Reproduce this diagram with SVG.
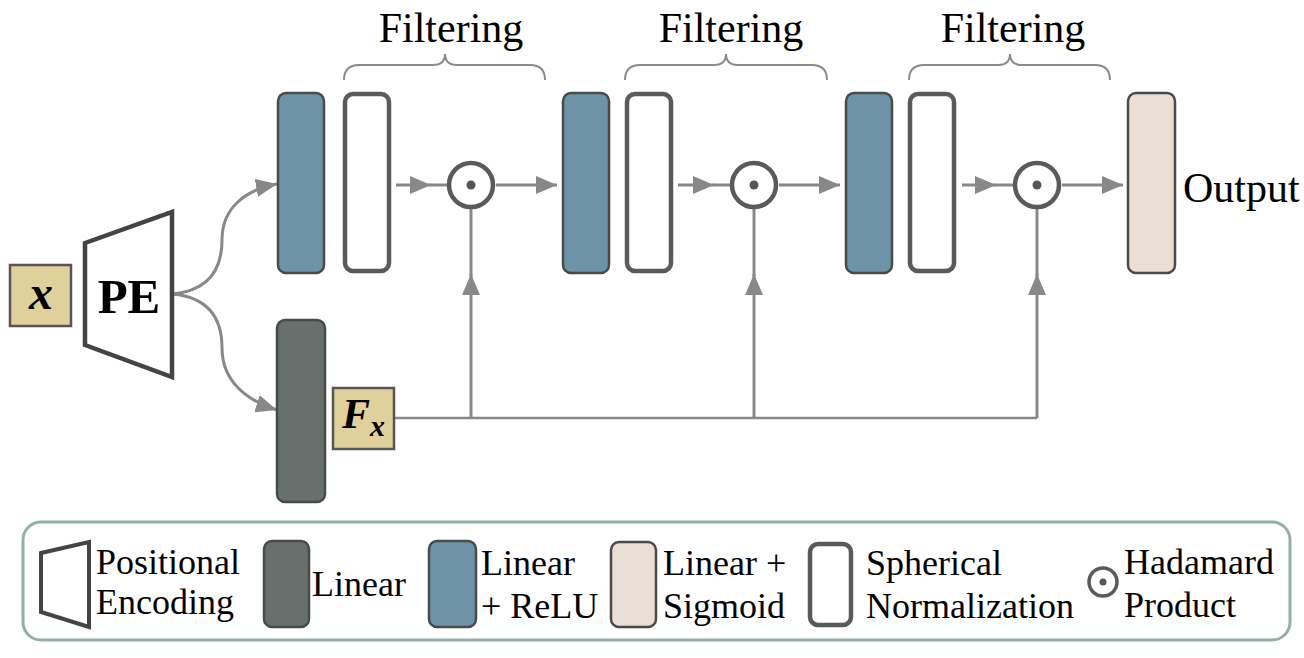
<svg xmlns="http://www.w3.org/2000/svg" width="1304" height="658" viewBox="0 0 1304 658">
<style>
.t{font-family:"Liberation Serif","Times New Roman",serif;fill:#000}
.big{font-size:42px}
.lg{font-size:36px}
.blue{fill:#6d93a9;stroke:#4a4a4a;stroke-width:2.5}
.dark{fill:#66716d;stroke:#4a4a4a;stroke-width:2.5}
.beige{fill:#eaded5;stroke:#4a4a4a;stroke-width:2.5}
.norm{fill:#fff;stroke:#5a5a5a;stroke-width:4.5}
.tan{fill:#e0d09b;stroke:#555;stroke-width:2.5}
.had{fill:#fff;stroke:#5a5a5a;stroke-width:4.5}
.dot{fill:#555}
.con{fill:none;stroke:#888;stroke-width:3}
.brace{fill:none;stroke:#8a8a8a;stroke-width:2}
.pe{fill:#fff;stroke:#444;stroke-width:4.5;stroke-linejoin:miter}
</style>
<defs>
<marker id="ah" markerUnits="userSpaceOnUse" markerWidth="21" markerHeight="18" refX="21" refY="9" orient="auto">
<path d="M0,0 L21,9 L0,18 z" fill="#888"/>
</marker>
</defs>

<!-- braces and labels -->
<g id="filtering1">
<path class="brace" d="M344,80 Q344,65 359,65 L433,65 Q445,65 445,54 Q445,65 457,65 L530,65 Q545,65 545,80"/>
<text class="t big" x="451" y="42" text-anchor="middle">Filtering</text>
</g>
<g id="filtering2">
<path class="brace" d="M625,80 Q625,65 640,65 L714,65 Q726,65 726,54 Q726,65 738,65 L812,65 Q827,65 827,80"/>
<text class="t big" x="731" y="42" text-anchor="middle">Filtering</text>
</g>
<g id="filtering3">
<path class="brace" d="M909,80 Q909,65 924,65 L998,65 Q1010,65 1010,54 Q1010,65 1022,65 L1095,65 Q1110,65 1110,80"/>
<text class="t big" x="1013" y="42" text-anchor="middle">Filtering</text>
</g>

<!-- connectors -->
<g id="connectors">
<path class="con" d="M173,294 C212,290 222,265 222,240 C222,208 245,190 277,184" marker-end="url(#ah)"/>
<path class="con" d="M173,294 C212,298 222,323 222,348 C222,380 245,400 277,410" marker-end="url(#ah)"/>
<path class="con" d="M396,185 L431,185" marker-end="url(#ah)"/>
<path class="con" d="M430,185 L449,185"/>
<path class="con" d="M496,185 L557,185" marker-end="url(#ah)"/>
<path class="con" d="M678,185 L714,185" marker-end="url(#ah)"/>
<path class="con" d="M713,185 L732,185"/>
<path class="con" d="M779,185 L840,185" marker-end="url(#ah)"/>
<path class="con" d="M962,185 L996,185" marker-end="url(#ah)"/>
<path class="con" d="M995,185 L1015,185"/>
<path class="con" d="M1062,185 L1123,185" marker-end="url(#ah)"/>
<path class="con" style="stroke-width:2.5" d="M394,418 L1037,418"/>
<path class="con" d="M471,418 L471,274" marker-end="url(#ah)"/>
<path class="con" d="M471,276 L471,207"/>
<path class="con" d="M754,418 L754,274" marker-end="url(#ah)"/>
<path class="con" d="M754,276 L754,207"/>
<path class="con" d="M1037,418 L1037,274" marker-end="url(#ah)"/>
<path class="con" d="M1037,276 L1037,207"/>
</g>

<!-- nodes -->
<g id="input-x">
<rect class="tan" x="10" y="265" width="61" height="61"/>
<text class="t" x="41" y="309" font-size="48" font-weight="bold" font-style="italic" text-anchor="middle">x</text>
</g>
<g id="pe">
<polygon class="pe" points="85,243 172,212 172,377 85,345"/>
<text class="t" x="129" y="313" font-size="49" font-weight="bold" text-anchor="middle">PE</text>
</g>
<g id="linear-relu-1"><rect class="blue" x="278" y="93" width="46" height="180" rx="8"/></g>
<g id="spherical-1"><rect class="norm" x="345" y="94" width="44" height="177" rx="8"/></g>
<g id="hadamard-1"><circle class="had" cx="471" cy="185" r="22"/><circle class="dot" cx="471" cy="185" r="4.5"/></g>
<g id="linear-relu-2"><rect class="blue" x="563" y="93" width="46" height="180" rx="8"/></g>
<g id="spherical-2"><rect class="norm" x="627" y="94" width="44" height="177" rx="8"/></g>
<g id="hadamard-2"><circle class="had" cx="754" cy="185" r="22"/><circle class="dot" cx="754" cy="185" r="4.5"/></g>
<g id="linear-relu-3"><rect class="blue" x="846" y="93" width="46" height="180" rx="8"/></g>
<g id="spherical-3"><rect class="norm" x="910" y="94" width="44" height="177" rx="8"/></g>
<g id="hadamard-3"><circle class="had" cx="1037" cy="185" r="22"/><circle class="dot" cx="1037" cy="185" r="4.5"/></g>
<g id="output">
<rect class="beige" x="1128" y="93" width="47" height="180" rx="8"/>
<text class="t big" x="1183" y="202">Output</text>
</g>
<g id="linear">
<rect class="dark" x="277" y="320" width="48" height="182" rx="8"/>
</g>
<g id="fx">
<rect class="tan" x="333" y="388" width="61" height="61"/>
<text class="t" x="342" y="428" font-size="42" font-weight="bold" font-style="italic">F<tspan font-size="30" dy="8">x</tspan></text>
</g>

<!-- legend -->
<g id="legend">
<rect x="23" y="522" width="1267" height="118" rx="18" fill="none" stroke="#93b0a6" stroke-width="3"/>
<polygon class="pe" style="stroke-width:4" points="41,553 89,542 89,627 41,612"/>
<text class="t lg" x="96" y="574">Positional</text>
<text class="t lg" x="96" y="614">Encoding</text>
<rect class="dark" x="264" y="541" width="45" height="86" rx="8"/>
<text class="t lg" x="312" y="596">Linear</text>
<rect class="blue" x="429" y="541" width="47" height="86" rx="8"/>
<text class="t lg" x="481" y="575">Linear</text>
<text class="t lg" x="481" y="618">+ ReLU</text>
<rect class="beige" x="611" y="542" width="45" height="85" rx="8"/>
<text class="t lg" x="663" y="575">Linear +</text>
<text class="t lg" x="663" y="618">Sigmoid</text>
<rect class="norm" x="810" y="544" width="41" height="81" rx="8"/>
<text class="t lg" x="866" y="575">Spherical</text>
<text class="t lg" x="866" y="618">Normalization</text>
<circle class="had" style="stroke-width:3.5" cx="1103" cy="582" r="14"/>
<circle class="dot" cx="1103" cy="582" r="3.5"/>
<text class="t lg" x="1124" y="574">Hadamard</text>
<text class="t lg" x="1124" y="617">Product</text>
</g>
</svg>
